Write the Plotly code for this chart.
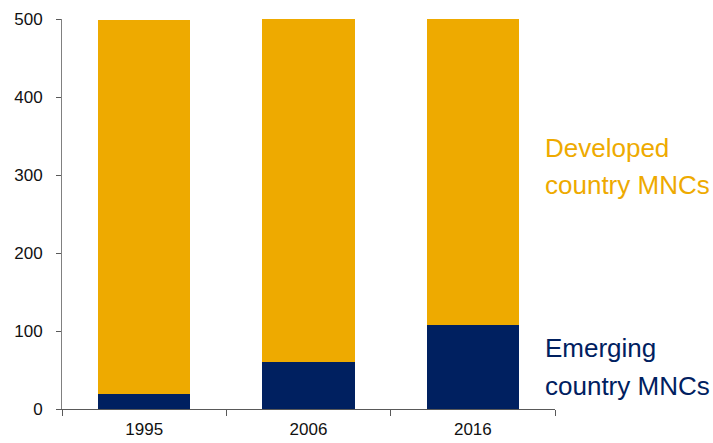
import plotly.graph_objects as go

years = ["1995", "2006", "2016"]
emerging = [19, 60, 108]
developed = [480, 440, 392]
y_ticks = [0, 100, 200, 300, 400, 500]

ORANGE = "#EEAA00"
NAVY = "#002060"
FONT = "Liberation Sans, Arial, sans-serif"

fig = go.Figure()
fig.add_bar(x=years, y=emerging, marker_color=NAVY, marker_line_width=0, name="Emerging country MNCs")
fig.add_bar(x=years, y=developed, marker_color=ORANGE, marker_line_width=0, name="Developed country MNCs")

fig.update_layout(
    barmode="stack",
    bargap=0.44,
    width=713, height=443,
    margin=dict(l=62, r=158, t=19, b=34),
    paper_bgcolor="white", plot_bgcolor="white",
    showlegend=False,
    font=dict(family=FONT, size=17, color="#111111"),
)
fig.update_xaxes(
    automargin=False,
    showline=True, linecolor="#595959", linewidth=1,
    ticks="outside", ticklen=6, tickcolor="#595959", tickson="boundaries",
    showgrid=False, ticklabelstandoff=5,
    tickfont=dict(size=17, color="#111111"),
)
fig.update_yaxes(
    automargin=False,
    range=[0, 500], tickvals=y_ticks,
    showline=True, linecolor="#808080", linewidth=1,
    ticks="outside", ticklen=5, tickcolor="#595959",
    showgrid=False, zeroline=False, ticklabelstandoff=10,
    tickfont=dict(size=17, color="#111111"),
)

labels = [
    ("Developed", 335, ORANGE),
    ("country MNCs", 287, ORANGE),
    ("Emerging", 78, NAVY),
    ("country MNCs", 29, NAVY),
]
for txt, yv, col in labels:
    fig.add_annotation(
        text=txt, xref="paper", yref="y", x=(543 - 62) / 493, y=yv,
        xanchor="left", yanchor="middle", showarrow=False,
        font=dict(family=FONT, size=26, color=col),
    )

fig.write_html(
    "out.html",
    config={"displayModeBar": False, "staticPlot": True},
    post_script="document.body.style.margin='0';document.body.style.overflow='hidden';",
)
